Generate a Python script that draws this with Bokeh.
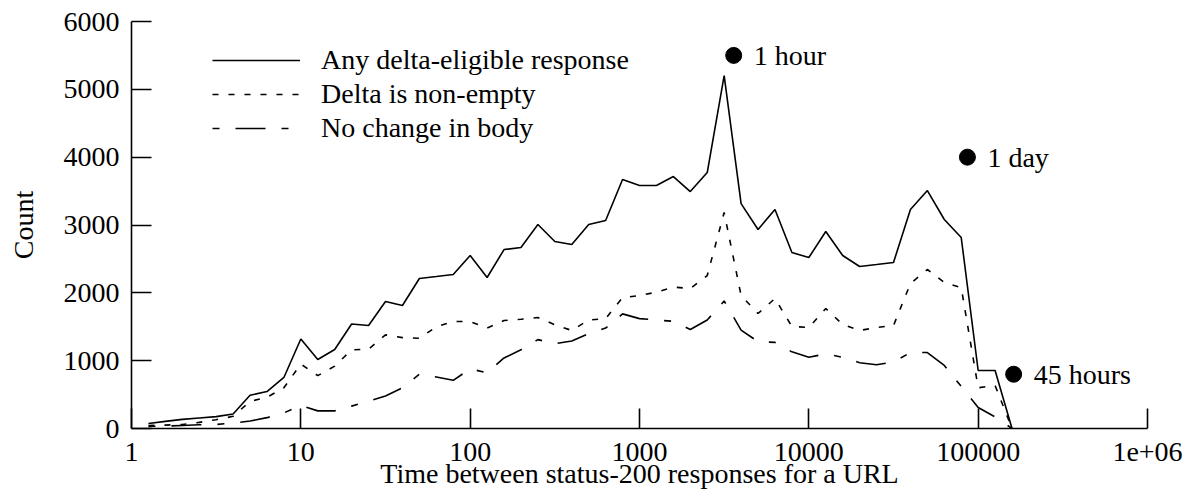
from bokeh.plotting import figure
from bokeh.models import Range1d, FixedTicker, Legend, LegendItem, ColumnDataSource, CustomJSTickFormatter
from bokeh.core.properties import value
from bokeh.embed import file_html
from bokeh.resources import INLINE

# Time bins (seconds)
times = [1.259, 1.585, 1.995, 2.512, 3.162, 3.981, 5.012, 6.310, 7.943, 10.0,
         12.59, 15.85, 19.95, 25.12, 31.62, 39.81, 50.12, 63.10, 79.43, 100.0,
         125.9, 158.5, 199.5, 251.2, 316.2, 398.1, 501.2, 631.0, 794.3, 1000.0,
         1259, 1585, 1995, 2512, 3162, 3981, 5012, 6310, 7943, 10000,
         12589, 15849, 19953, 25119, 31623, 39811, 50119, 63096, 79433, 100000,
         125893, 158489]

any_delta = [74, 105, 135, 155, 175, 215, 490, 545, 752, 1320,
             1017, 1164, 1540, 1518, 1872, 1813, 2211, 2240, 2270, 2550,
             2226, 2638, 2668, 3007, 2756, 2712, 3007, 3066, 3670, 3582,
             3582, 3714, 3493, 3773, 5203, 3316, 2933, 3228, 2594, 2520,
             2904, 2550, 2388, 2417, 2447, 3228, 3508, 3081, 2815, 855,
             855, 0]

non_empty = [45, 50, 60, 90, 130, 180, 400, 460, 600, 950,
             780, 920, 1160, 1170, 1380, 1340, 1330, 1500, 1577, 1577,
             1480, 1592, 1610, 1636, 1530, 1445, 1600, 1620, 1930, 1960,
             2010, 2085, 2063, 2255, 3184, 1960, 1695, 1916, 1504, 1489,
             1769, 1533, 1445, 1489, 1518, 2137, 2344, 2152, 2078, 600,
             634, 0]

no_change = [30, 35, 45, 55, 60, 80, 110, 160, 230, 340,
             260, 260, 330, 400, 480, 600, 800, 760, 710, 880,
             820, 1040, 1160, 1310, 1250, 1290, 1400, 1480, 1690, 1620,
             1600, 1580, 1460, 1600, 1880, 1450, 1280, 1270, 1130, 1050,
             1100, 1050, 970, 940, 980, 1120, 1120, 930, 620, 310,
             170, 0]

series_names = ["Any delta-eligible response", "Delta is non-empty", "No change in body"]

mark_x = [3600, 86400, 162000]
mark_y = [5500, 4000, 800]
mark_labels = ["1 hour", "1 day", "45 hours"]

x_ticks = [1, 10, 100, 1000, 10000, 100000, 1000000]
y_ticks = [0, 1000, 2000, 3000, 4000, 5000, 6000]

FONT = "Liberation Serif"
FS = "28px"

p = figure(width=1189, height=496, x_axis_type="log",
           x_range=Range1d(1, 1e6), y_range=Range1d(0, 6000),
           output_backend="svg", toolbar_location=None,
           min_border_left=131, min_border_right=42,
           min_border_top=21, min_border_bottom=68)

p.grid.visible = False
p.outline_line_color = None
p.background_fill_color = "white"
p.border_fill_color = "white"

src = ColumnDataSource(dict(t=times, a=any_delta, b=non_empty, c=no_change))
r1 = p.line("t", "a", source=src, line_color="black", line_width=1.6)
r2 = p.line("t", "b", source=src, line_color="black", line_width=1.6, line_dash="6 10")
r3 = p.line("t", "c", source=src, line_color="black", line_width=1.6, line_dash="7 16 30 16")

msrc = ColumnDataSource(dict(x=mark_x, y=mark_y, l=mark_labels))
p.scatter("x", "y", source=msrc, size=16, color="black")
p.text("x", "y", text="l", source=msrc, x_offset=20, text_baseline="middle",
       text_font=value(FONT), text_font_size=FS, text_color="black")

legend = Legend(items=[LegendItem(label=series_names[0], renderers=[r1]),
                       LegendItem(label=series_names[1], renderers=[r2]),
                       LegendItem(label=series_names[2], renderers=[r3])],
                location=(81, 283), glyph_width=88, glyph_height=34, label_height=34,
                spacing=0, padding=0, margin=0, label_standoff=21,
                border_line_alpha=0, background_fill_alpha=0,
                label_text_font=FONT, label_text_font_size=FS, label_text_color="black")
p.add_layout(legend)

p.xaxis.ticker = FixedTicker(ticks=x_ticks, minor_ticks=[])
p.xaxis.formatter = CustomJSTickFormatter(code="return tick >= 1e6 ? '1e+06' : tick.toFixed(0);")
p.yaxis.ticker = FixedTicker(ticks=y_ticks, minor_ticks=[])

p.xaxis.axis_label = "Time between status-200 responses for a URL"
p.yaxis.axis_label = "Count"

for ax in (p.xaxis, p.yaxis):
    ax.axis_line_width = 1.6
    ax.axis_line_color = "black"
    ax.major_tick_line_width = 1.6
    ax.major_tick_line_color = "black"
    ax.major_tick_in = 20
    ax.major_tick_out = 0
    ax.minor_tick_in = 0
    ax.minor_tick_out = 0
    ax.major_label_text_font = FONT
    ax.major_label_text_font_size = FS
    ax.major_label_text_color = "black"
    ax.axis_label_text_font = FONT
    ax.axis_label_text_font_size = FS
    ax.axis_label_text_font_style = "normal"
    ax.axis_label_text_color = "black"

p.yaxis.major_label_standoff = 12
p.yaxis.axis_label_standoff = 22
p.xaxis.major_label_standoff = 14
p.xaxis.axis_label_standoff = -6

open("out.html", "w").write(file_html(p, INLINE))
